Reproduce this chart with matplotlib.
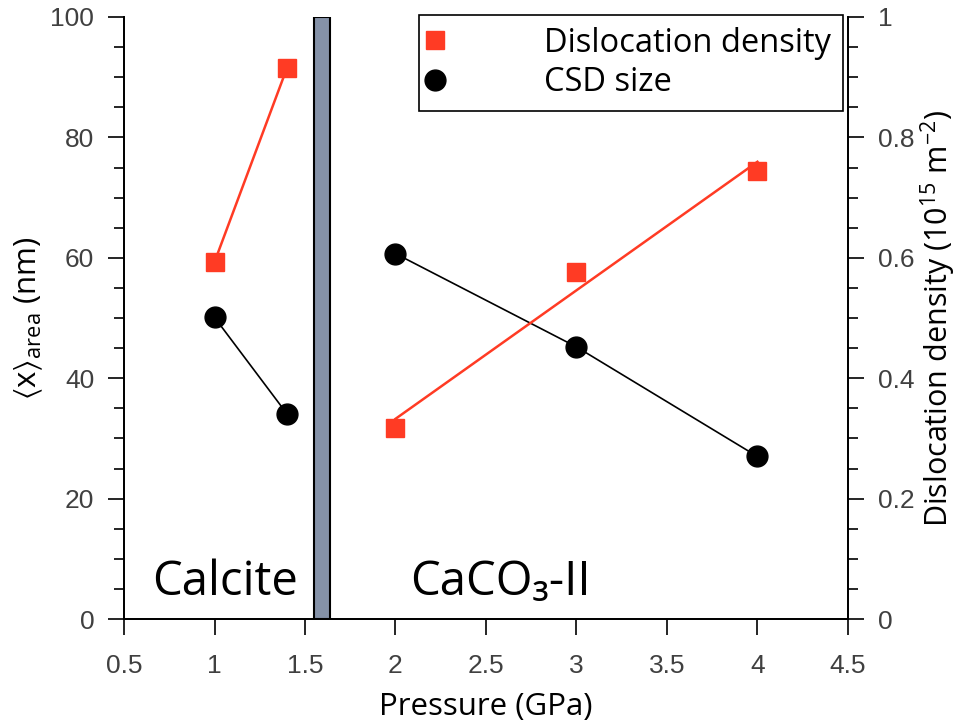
import matplotlib
matplotlib.use("Agg")
import matplotlib.pyplot as plt
import numpy as np
from matplotlib.ticker import MultipleLocator

plt.rcParams['font.family'] = ['Open Sans', 'DejaVu Sans']
plt.rcParams['mathtext.fontset'] = 'custom'
plt.rcParams['mathtext.rm'] = 'Open Sans'
plt.rcParams['mathtext.it'] = 'Open Sans'
plt.rcParams['mathtext.fallback'] = 'stixsans'

# data
p_calcite = [1.0, 1.4]
p_caco3 = [2.0, 3.0, 4.0]
csd_calcite = [50.1, 34.1]          # nm, left axis
csd_caco3 = [60.7, 45.2, 27.0]
disl_calcite = [0.593, 0.915]       # 1e15 m^-2, right axis
disl_caco3 = [0.317, 0.577, 0.744]
boundary = (1.55, 1.64)

red = '#FF3B24'
bar_col = '#8592A8'
tick_col = '#404040'

fig = plt.figure(figsize=(9.57, 7.23), dpi=100)
ax = fig.add_axes([0.1296, 0.1438, 0.7564, 0.8327])
ax2 = ax.twinx()

# phase boundary bar
ax.bar((boundary[0] + boundary[1]) / 2, 100, width=boundary[1] - boundary[0],
       color=bar_col, edgecolor='black', linewidth=1.5, zorder=3)

# CSD size (left)
ax.plot(p_calcite, csd_calcite, color='black', lw=1.2, zorder=4)
ax.plot(p_caco3, csd_caco3, color='black', lw=1.2, zorder=4)
ax.plot(p_calcite + p_caco3, csd_calcite + csd_caco3, 'o', color='black',
        ms=15, zorder=5)

# dislocation density (right)
ax2.plot(p_calcite, disl_calcite, color=red, lw=1.8, zorder=4)
k, b = np.polyfit(p_caco3, disl_caco3, 1)
xf = np.array([p_caco3[0], p_caco3[-1]])
ax2.plot(xf, k * xf + b, color=red, lw=1.8, zorder=4)
ax2.plot(p_calcite + p_caco3, disl_calcite + disl_caco3, 's', color=red,
         ms=13, zorder=5)

ax.set_xlim(0.5, 4.5)
ax.set_ylim(0, 100)
ax2.set_ylim(0, 1)
ax.yaxis.set_minor_locator(MultipleLocator(5))
ax2.yaxis.set_minor_locator(MultipleLocator(0.05))
ax.set_xticks([0.5, 1, 1.5, 2, 2.5, 3, 3.5, 4, 4.5])
ax.set_xticklabels(['0.5', '1', '1.5', '2', '2.5', '3', '3.5', '4', '4.5'])
ax.set_yticks([0, 20, 40, 60, 80, 100])
ax.set_yticklabels(['0', '20', '40', '60', '80', '100'])
ax2.set_yticks([0, 0.2, 0.4, 0.6, 0.8, 1.0])
ax2.set_yticklabels(['0', '0.2', '0.4', '0.6', '0.8', '1'])

for a in (ax, ax2):
    a.spines['top'].set_visible(False)
    for s in a.spines.values():
        s.set_linewidth(1.3)
    a.tick_params(which='major', direction='out', length=11.5, width=1.2,
                  labelsize=19, labelcolor=tick_col, pad=10)
    a.tick_params(which='minor', direction='out', length=7, width=1.2)
    for lab in a.get_xticklabels() + a.get_yticklabels():
        lab.set_family('Liberation Sans')
ax.tick_params(axis='x', pad=14)

ax.set_xlabel('Pressure (GPa)', fontsize=22.5, labelpad=10)
ax.set_ylabel('$\\langle$x$\\rangle_\\mathregular{area}$ (nm)', fontsize=22.5,
              labelpad=4)
ax2.set_ylabel('Dislocation density (10$^\\mathregular{15}$ m$^\\mathregular{-2}$)',
               fontsize=22, labelpad=3)

ax.text(0.655, 4, 'Calcite', fontsize=34, ha='left', va='baseline')
ax.text(2.08, 4, 'CaCO₃-II', fontsize=34, ha='left', va='baseline')

h1 = plt.Line2D([], [], ls='none', marker='s', color=red, ms=13)
h2 = plt.Line2D([], [], ls='none', marker='o', color='black', ms=15)
leg = ax2.legend([h1, h2], ['Dislocation density', 'CSD size'],
                 loc='upper right', bbox_to_anchor=(0.9931, 1.003),
                 borderaxespad=0, fontsize=23.5, frameon=True, fancybox=False,
                 framealpha=1, edgecolor='black', borderpad=0.35,
                 handlelength=0.3, handletextpad=3.2, labelspacing=0.2)
leg.get_frame().set_linewidth(1.2)
leg.set_zorder(10)

fig.savefig('out.png', dpi=100)
